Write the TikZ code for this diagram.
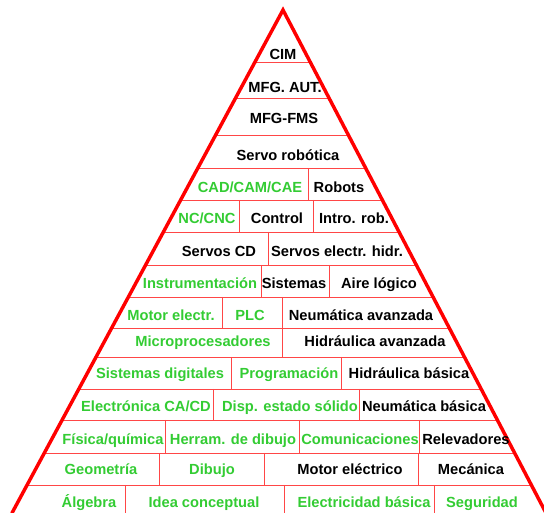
\documentclass[tikz,border=0pt]{standalone}
\usepackage{fontspec}
\setmainfont{Liberation Sans}
\usetikzlibrary{calc}
\definecolor{edgered}{RGB}{255,0,0}
\definecolor{linered}{RGB}{255,70,70}
\definecolor{textgreen}{RGB}{51,204,51}
\begin{document}
\begin{tikzpicture}[x=0.75pt,y=-0.75pt,
  lbl/.style={font=\bfseries\fontsize{11}{13}\selectfont, inner sep=0pt, anchor=base},
  gr/.style={lbl, text=textgreen},
  bk/.style={lbl, text=black},
  sep/.style={draw=linered, line width=0.7pt},
  side/.style={draw=edgered, line width=2.6pt, line join=miter, line cap=round}]
\useasboundingbox (0,0) rectangle (544,513);
\clip (0,0) rectangle (544,513);
\fill[white] (0,0) rectangle (544,513);

% corners of the pyramid
\coordinate (apex) at (283,10);
\coordinate (bl) at (12,513);
\coordinate (br) at (546,513);

% horizontal layer separators, edge to edge
\foreach \y [count=\i] in {62,98,135,168,200,232,265,297,328,357,389,420,453,485} {
  \coordinate (L\i) at ($(apex)!{(\y-10)/503}!(bl)$);
  \coordinate (R\i) at ($(apex)!{(\y-10)/503}!(br)$);
  \draw[sep] (L\i) -- (R\i);
}

% vertical dividers inside the layers
\foreach \x/\ya/\yb in {308/168/200,
  239/200/232, 313/200/232,
  268/232/265,
  261/265/297, 329/265/297,
  222/297/328, 282/297/328,
  282/328/357,
  231/357/389, 341/357/389,
  213/389/420, 359/389/420,
  165/420/453, 299/420/453, 419/420/453,
  159/453/485, 264/453/485, 418/453/485,
  125/485/513, 284/485/513, 434/485/513} {
  \draw[sep] (\x,\ya) -- (\x,\yb);
}

% outer sides
\draw[side] (bl) -- (apex) -- (br);

% labels
\node[bk] (cim) at (283,59.5) {CIM};
\node[bk] (mfgaut) at (285,93) {MFG. AUT.};
\node[bk] (mfgfms) at (284,124) {MFG-FMS};
\node[bk] (servorob) at (288,160.5) {Servo robótica};
\node[gr] (cad) at (250,192.5) {CAD/CAM/CAE};
\node[bk] (robots) at (339,192.5) {Robots};
\node[gr] (nc) at (207,224) {NC/CNC};
\node[bk] (control) at (277,224) {Control};
\node[bk] (introrob) at (354,224) {Intro. rob.};
\node[bk] (servoscd) at (219,256.5) {Servos CD};
\node[bk] (servoseh) at (337,256.5) {Servos electr. hidr.};
\node[gr] (instr) at (200,288.5) {Instrumentación};
\node[bk] (sistemas) at (294,288.5) {Sistemas};
\node[bk] (aire) at (379,288.5) {Aire lógico};
\node[gr] (motorel) at (171,320.5) {Motor electr.};
\node[gr] (plc) at (250,320.5) {PLC};
\node[bk] (neumav) at (361,320.5) {Neumática avanzada};
\node[gr] (micro) at (203,347) {Microprocesadores};
\node[bk] (hidrav) at (375,347) {Hidráulica avanzada};
\node[gr] (sisdig) at (160,378.5) {Sistemas digitales};
\node[gr] (prog) at (289,378.5) {Programación};
\node[bk] (hidrbas) at (409,378.5) {Hidráulica básica};
\node[gr] (electr) at (146,411.5) {Electrónica CA/CD};
\node[gr] (disp) at (290,411.5) {Disp. estado sólido};
\node[bk] (neumbas) at (424,411.5) {Neumática básica};
\node[gr] (fisica) at (113,444.5) {Física/química};
\node[gr] (herram) at (233,444.5) {Herram. de dibujo};
\node[gr] (comun) at (360,444.5) {Comunicaciones};
\node[bk] (relev) at (466,444.5) {Relevadores};
\node[gr] (geom) at (101,474.5) {Geometría};
\node[gr] (dibujo) at (212,474.5) {Dibujo};
\node[bk] (motorelec) at (350,474.5) {Motor eléctrico};
\node[bk] (mecanica) at (471,474.5) {Mecánica};
\node[gr] (algebra) at (89,507.5) {Álgebra};
\node[gr] (idea) at (204,507.5) {Idea conceptual};
\node[gr] (elecbas) at (364,507.5) {Electricidad básica};
\node[gr] (seguridad) at (482,507.5) {Seguridad};
\end{tikzpicture}
\end{document}
